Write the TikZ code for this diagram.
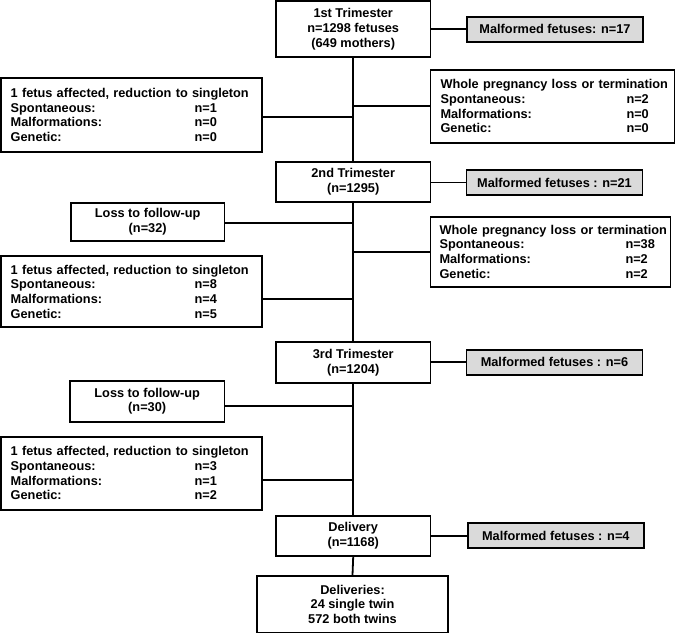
\documentclass[tikz,border=0pt]{standalone}
\usepackage{fontspec}
\setmainfont{Liberation Sans}
\newcommand\myrowL[2]{\makebox[184bp][l]{#1}#2}
\newcommand\myrowR[2]{\makebox[186bp][l]{#1}#2}
\definecolor{malfill}{RGB}{218,218,218}
\begin{document}
\begin{tikzpicture}[x=1bp,y=-1bp,
  every node/.style={font=\bfseries\fontsize{12.8}{14.8}\selectfont},
  box/.style={draw, line width=1.8bp, inner sep=0pt, align=center},
  listbox/.style={draw, line width=1.8bp, inner xsep=10bp, inner ysep=0pt, align=left},
  malbox/.style={box, fill=malfill, minimum width=176bp, minimum height=25bp},
  conn/.style={line width=1.8bp}]
\useasboundingbox (0,0) rectangle (677,634);

% main column
\node[box, minimum width=154.5bp, minimum height=56bp] (t1) at (353.2,29) {1st Trimester\\n=1298 fetuses\\(649 mothers)};
\node[box, minimum width=154.5bp, minimum height=39.5bp] (t2) at (353.2,182) {2nd Trimester\\(n=1295)};
\node[box, minimum width=154.5bp, minimum height=41bp] (t3) at (353.2,362.8) {3rd Trimester\\(n=1204)};
\node[box, minimum width=154.5bp, minimum height=40.3bp] (dl) at (353.2,535.8) {Delivery\\(n=1168)};
\node[box, minimum width=190.5bp, minimum height=56.5bp] (dd) at (352.5,604.3) {Deliveries:\\24 single twin\\572 both twins};

% malformed boxes
\node[malbox] (m1) at (555,29.2) {Malformed fetuses: n=17};
\node[malbox] (m2) at (554.5,182.5) {Malformed fetuses : n=21};
\node[malbox] (m3) at (554.5,362.3) {Malformed fetuses : n=6};
\node[malbox] (m4) at (555.8,535.7) {Malformed fetuses : n=4};

% left list boxes
\node[listbox, text width=241bp, minimum height=73.4bp] (l1) at (131.2,115) {1 fetus affected, reduction to singleton\\\myrowL{Spontaneous:}{n=1}\\\myrowL{Malformations:}{n=0}\\\myrowL{Genetic:}{n=0}};
\node[listbox, text width=241bp, minimum height=71.3bp] (l2) at (131.2,291.7) {1 fetus affected, reduction to singleton\\\myrowL{Spontaneous:}{n=8}\\\myrowL{Malformations:}{n=4}\\\myrowL{Genetic:}{n=5}};
\node[listbox, text width=241bp, minimum height=73.3bp] (l3) at (131.2,473.3) {1 fetus affected, reduction to singleton\\\myrowL{Spontaneous:}{n=3}\\\myrowL{Malformations:}{n=1}\\\myrowL{Genetic:}{n=2}};

% right list boxes
\node[listbox, text width=224bp, minimum height=72.7bp] (r1) at (552.5,106.3) {\mbox{Whole pregnancy loss or termination}\\\myrowR{Spontaneous:}{n=2}\\\myrowR{Malformations:}{n=0}\\\myrowR{Genetic:}{n=0}};
\node[listbox, inner xsep=9bp, text width=222bp, minimum height=70bp] (r2) at (550.5,251.7) {\mbox{Whole pregnancy loss or termination}\\\myrowR{Spontaneous:}{n=38}\\\myrowR{Malformations:}{n=2}\\\myrowR{Genetic:}{n=2}};

% loss to follow-up
\node[box, minimum width=153.5bp, minimum height=38bp] (lo1) at (147.7,221.7) {Loss to follow-up\\(n=32)};
\node[box, minimum width=154.5bp, minimum height=41bp] (lo2) at (147.2,401.2) {Loss to follow-up\\(n=30)};

% vertical connectors
\draw[conn] (t1.south) -- (t2.north);
\draw[conn] (t2.south) -- (t3.north);
\draw[conn] (t3.south) -- (dl.north);
\draw[conn] (dl.south) -- (dd.north);

% malformed connectors
\draw[conn] (t1.east |- m1.west) -- (m1.west);
\draw[conn] (t2.east |- m2.west) -- (m2.west);
\draw[conn] (t3.east |- m3.west) -- (m3.west);
\draw[conn] (dl.east |- m4.west) -- (m4.west);

% side branches
\draw[conn] ([yshift=-1.7bp]l1.east) -- ([yshift=-1.7bp]l1.east -| t1.south);
\draw[conn] (r1.west) -- (r1.west -| t1.south);
\draw[conn] ([yshift=-1bp]lo1.east) -- ([yshift=-1bp]lo1.east -| t2.south);
\draw[conn] (r2.west) -- (r2.west -| t2.south);
\draw[conn] ([yshift=-7.6bp]l2.east) -- ([yshift=-7.6bp]l2.east -| t2.south);
\draw[conn] ([yshift=-4.5bp]lo2.east) -- ([yshift=-4.5bp]lo2.east -| t3.south);
\draw[conn] ([yshift=-6.7bp]l3.east) -- ([yshift=-6.7bp]l3.east -| t3.south);
\end{tikzpicture}
\end{document}
